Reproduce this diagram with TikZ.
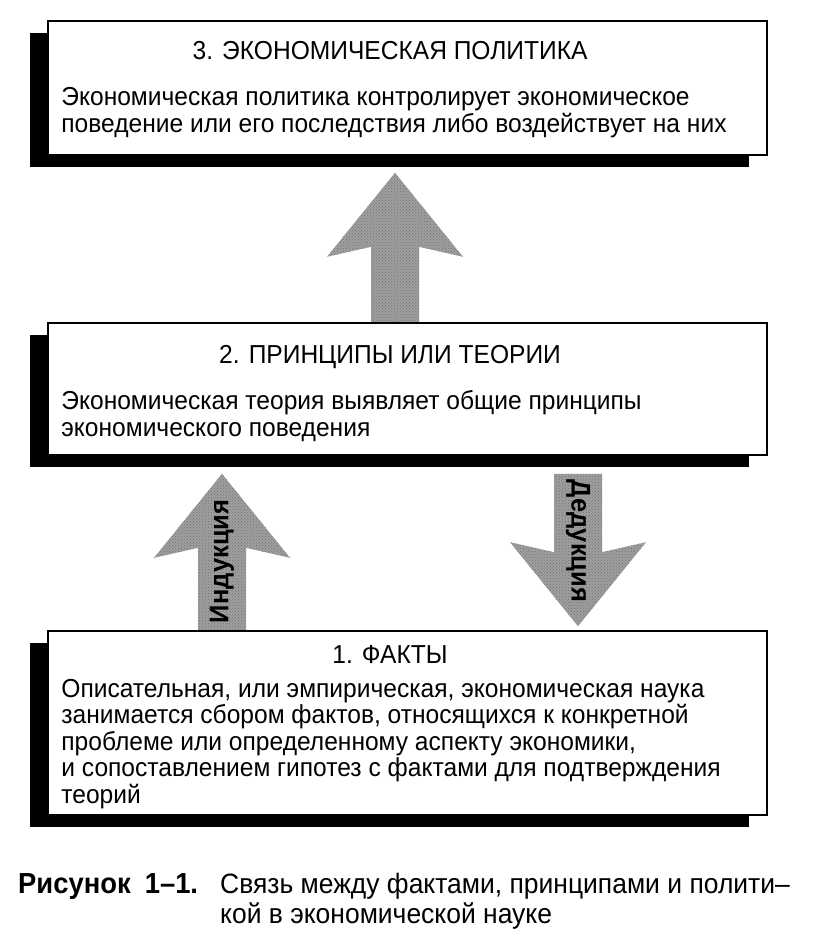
\documentclass[tikz,border=0pt]{standalone}
\usepackage{fontspec}
\setmainfont{Liberation Sans}[FakeStretch=0.945]
\usetikzlibrary{calc, positioning, shadows, patterns}

\pgfdeclarelayer{back}
\pgfsetlayers{back,main}

\tikzset{
  stage/.style={draw, line width=1.6pt, fill=white, minimum width=719pt, inner sep=0pt,
    drop shadow={shadow xshift=-18pt, shadow yshift=-12pt, fill=black, opacity=1}},
  stagetitle/.style={anchor=base, inner sep=0pt, font=\fontsize{26}{26}\selectfont},
  stagetext/.style={anchor=base west, inner sep=0pt, align=left, font=\fontsize{26}{26.5}\selectfont},
  arrowfill/.style={fill=black!38, postaction={pattern=crosshatch dots, pattern color=black!55}},
  arrowlabel/.style={inner sep=0pt, font=\bfseries\fontsize{27}{27}\selectfont},
}

% block arrow from tail (#1) to tip (#2)
\newcommand{\blockarrow}[2]{%
  \fill[arrowfill] let \p1=(#1), \p2=(#2), \p3=($(#2)!74pt!(#1)$), \p4=($(#2)!84pt!(#1)$) in
    (\x1-24pt,\y1) -- (\x1-24pt,\y3) -- (\x1-68pt,\y4) -- (\p2)
    -- (\x1+68pt,\y4) -- (\x1+24pt,\y3) -- (\x1+24pt,\y1) -- cycle;}

\begin{document}
\begin{tikzpicture}[x=1pt, y=-1pt]

\begin{pgfonlayer}{back}
\fill[white] (0,0) rectangle (830,946);
\end{pgfonlayer}
\useasboundingbox (0,0) rectangle (830,946);

% boxes
\node[stage, minimum height=134pt] (b3) at (407.5,88) {};
\node[stage, minimum height=132pt] (b2) at (407.5,389) {};
\node[stage, minimum height=184pt] (b1) at (407.5,723) {};

% texts (base = last line)
\node[stagetitle] (b3-title) at ($(b3.north)+(-17.5,39)$) {3. ЭКОНОМИЧЕСКАЯ ПОЛИТИКА};
\node[stagetext] (b3-text) at ($(b3.north west)+(14,112)$)
  {Экономическая политика контролирует экономическое\\
   поведение или его последствия либо воздействует на них};

\node[stagetitle] (b2-title) at ($(b2.north)+(-17.5,41)$) {2. ПРИНЦИПЫ ИЛИ ТЕОРИИ};
\node[stagetext] (b2-text) at ($(b2.north west)+(14,114)$)
  {Экономическая теория выявляет общие принципы\\
   экономического поведения};

\node[stagetitle] (b1-title) at ($(b1.north)+(-17.5,33)$) {1. ФАКТЫ};
\node[stagetext] (b1-text) at ($(b1.north west)+(14,173)$)
  {Описательная, или эмпирическая, экономическая наука\\
   занимается сбором фактов, относящихся к конкретной\\
   проблеме или определенному аспекту экономики,\\
   и сопоставлением гипотез с фактами для подтверждения\\
   теорий};

% arrows
\coordinate (up-tail) at ($(b2.north)+(-12.5,0)$);
\coordinate (up-tip) at ($(b3.south)+(-12.5,17)$);
\coordinate (ind-tail) at ($(b1.north)+(-185.5,0)$);
\coordinate (ind-tip) at ($(b2.south)+(-185.5,18)$);
\coordinate (ded-tail) at ($(b2.south)+(170.5,18)$);
\coordinate (ded-tip) at ($(b1.north)+(170.5,-4)$);

\begin{pgfonlayer}{back}
\blockarrow{up-tail}{up-tip}
\blockarrow{ind-tail}{ind-tip}
\blockarrow{ded-tail}{ded-tip}
\end{pgfonlayer}

\path (ind-tail) -- node[arrowlabel, pos=0.44, rotate=90] (ind-label) {Индукция} (ind-tip);
\path (ded-tail) -- node[arrowlabel, pos=0.44, rotate=-90] (ded-label) {Дедукция} (ded-tip);

% caption
\node[anchor=base west, inner sep=0pt, font=\bfseries\fontsize{29}{29}\selectfont]
  (fig-num) at (18,893) {Рисунок\hspace{14pt}1–1.};
\node[anchor=base west, inner sep=0pt, align=left, font=\fontsize{28}{30}\selectfont]
  (fig-cap) at (220,923) {Связь между фактами, принципами и полити–\\кой в экономической науке};

\end{tikzpicture}
\end{document}
